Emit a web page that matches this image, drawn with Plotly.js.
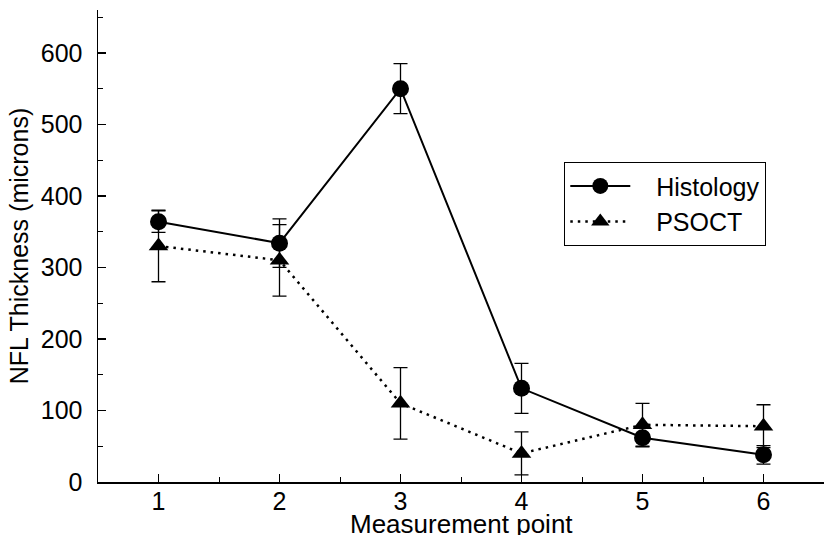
<!DOCTYPE html>
<html>
<head>
<meta charset="utf-8">
<script src="https://cdn.plot.ly/plotly-3.0.1.min.js"></script>
<style>
html,body{margin:0;padding:0;background:#fff;}
#chart{width:824px;height:535px;}
</style>
</head>
<body>
<div id="chart"></div>
<script>
var measurementPoints = [1, 2, 3, 4, 5, 6];
var histologyValues = [364, 334, 550, 131, 62, 38];
var histologyErrors = [15, 34, 35, 35, 13, 13];
var psoctValues = [330, 310, 110, 40, 80, 78];
var psoctErrors = [50, 50, 50, 30, 30, 30];
var xTickVals = [1, 2, 3, 4, 5, 6];
var yTickVals = [0, 100, 200, 300, 400, 500, 600];
var seriesNames = ['Histology', 'PSOCT'];
var xTitle = 'Measurement point';
var yTitle = 'NFL Thickness (microns)';

var FONT = 'Liberation Sans, Arial, sans-serif';
var PAD = '\u00a0\u00a0\u00a0';

var traces = [
  {
    x: measurementPoints, y: psoctValues, name: PAD + seriesNames[1],
    type: 'scatter', mode: 'lines+markers',
    line: {color: '#000', width: 2.5, dash: '2.5px,5px'},
    marker: {symbol: 'triangle-up', size: 17, color: '#000'},
    error_y: {type: 'data', array: psoctErrors, visible: true, color: '#000', thickness: 1.3, width: 7}
  },
  {
    x: measurementPoints, y: histologyValues, name: PAD + seriesNames[0],
    type: 'scatter', mode: 'lines+markers',
    line: {color: '#000', width: 2},
    marker: {symbol: 'circle', size: 17, color: '#000'},
    error_y: {type: 'data', array: histologyErrors, visible: true, color: '#000', thickness: 1.3, width: 7}
  }
];

var layout = {
  width: 824, height: 535,
  margin: {l: 98, r: 0, t: 10, b: 53},
  paper_bgcolor: '#fff', plot_bgcolor: '#fff',
  showlegend: true,
  legend: {
    x: 0.642, y: 0.589, xanchor: 'left', yanchor: 'middle',
    bordercolor: '#000', borderwidth: 1.2, bgcolor: '#fff',
    font: {family: FONT, size: 25, color: '#000'},
    traceorder: 'reversed', itemwidth: 60, tracegroupgap: 0
  },
  annotations: [{
    text: xTitle, xref: 'paper', yref: 'paper', x: 0.5, y: -0.052,
    xanchor: 'center', yanchor: 'top', showarrow: false,
    font: {family: FONT, size: 26, color: '#000'}
  }],
  xaxis: {
    range: [0.5, 6.5], tickvals: xTickVals, ticktext: xTickVals.map(String),
    showgrid: false, zeroline: false,
    showline: true, linecolor: '#000', linewidth: 2,
    ticks: 'inside', ticklen: 8, tickwidth: 1.5, tickcolor: '#000',
    minor: {dtick: 0.5, tick0: 0.5, ticks: 'inside', ticklen: 5, tickwidth: 1, tickcolor: '#000', showgrid: false},
    tickfont: {family: FONT, size: 25, color: '#000'},
    ticklabelstandoff: -4
  },
  yaxis: {
    range: [0, 660], tickvals: yTickVals, ticktext: yTickVals.map(String),
    showgrid: false, zeroline: false,
    showline: true, linecolor: '#000', linewidth: 1.5,
    ticks: 'inside', ticklen: 8, tickwidth: 1.5, tickcolor: '#000',
    minor: {dtick: 50, tick0: 0, ticks: 'inside', ticklen: 5, tickwidth: 1, tickcolor: '#000', showgrid: false},
    tickfont: {family: FONT, size: 25, color: '#000'},
    ticklabelstandoff: 9,
    title: {text: yTitle, font: {family: FONT, size: 25, color: '#000'}, standoff: 5}
  }
};

Plotly.newPlot('chart', traces, layout, {displayModeBar: false, staticPlot: true});
</script>
</body>
</html>
